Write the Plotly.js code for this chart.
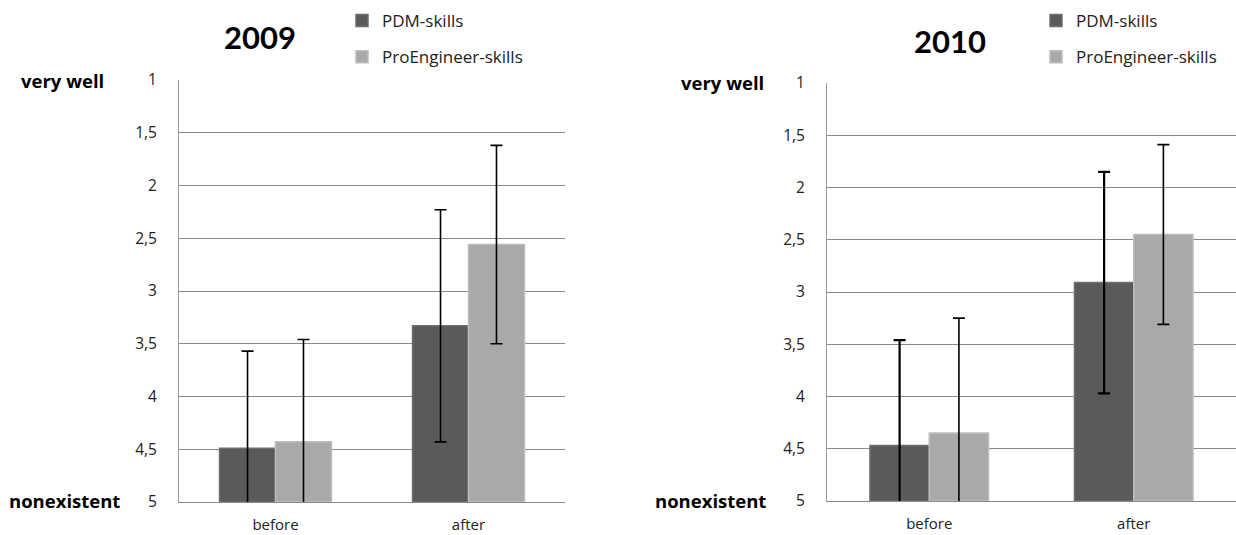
<!DOCTYPE html>
<html>
<head>
<meta charset="utf-8">
<script src="https://cdn.plot.ly/plotly-3.0.1.min.js"></script>
<style>
html,body{margin:0;padding:0;background:#fff;}
#chart{width:1236px;height:535px;}
</style>
</head>
<body>
<div id="chart"></div>
<script>
// ---- data (1 = very well, 5 = nonexistent) ----
const categories = ["before", "after"];
const seriesNames = ["PDM-skills", "ProEngineer-skills"];
const pdm2009 = [4.49, 3.33];
const pdmErr2009 = [0.92, 1.10];
const proe2009 = [4.43, 2.56];
const proeErr2009 = [0.97, 0.94];
const pdm2010 = [4.47, 2.91];
const pdmErr2010 = [1.01, 1.06];
const proe2010 = [4.35, 2.45];
const proeErr2010 = [1.10, 0.86];
const yTickVals = [1, 1.5, 2, 2.5, 3, 3.5, 4, 4.5, 5];
const chartTitles = ["2009", "2010"];
const scaleTop = "very well";
const scaleBottom = "nonexistent";
const BASE = 5;

const FONT = "Lato, 'Open Sans', 'DejaVu Sans', sans-serif";
const LABELFONT = "'Open Sans', Lato, sans-serif";
const W = 1236, H = 535;
const px = v => v / W;
const py = v => 1 - v / H;

const darkFill = "#5a5a5a", darkLine = "#6e6e6e";
const lightFill = "#a9a9a9", lightLine = "#bdbdbd";

function barTrace(name, vals, errs, xa, ya, fill, line, legend, group, thick) {
  return {
    type: "bar",
    name: name,
    x: categories,
    y: vals.map(v => v - BASE),
    base: vals.map(() => BASE),
    xaxis: xa, yaxis: ya,
    legend: legend,
    legendgroup: group,
    marker: {color: fill, line: {color: line, width: 1.5}},
    error_y: {type: "data", array: errs, visible: true, color: "#000", thickness: thick, width: 6},
    hoverinfo: "skip"
  };
}

const data = [
  barTrace(seriesNames[0], pdm2009, pdmErr2009, "x", "y", darkFill, darkLine, "legend", "a", 1.6),
  barTrace(seriesNames[1], proe2009, proeErr2009, "x", "y", lightFill, lightLine, "legend", "b", 1.6),
  barTrace(seriesNames[0], pdm2010, pdmErr2010, "x2", "y2", darkFill, darkLine, "legend2", "c", 2.2),
  barTrace(seriesNames[1], proe2010, proeErr2010, "x2", "y2", lightFill, lightLine, "legend2", "d", 1.6)
];

function yAxis(domain, anchor) {
  return {
    domain: domain, anchor: anchor,
    range: [5, 1], tickvals: yTickVals,
    showgrid: true, gridcolor: "#8a8a8a", gridwidth: 1,
    showline: true, linecolor: "#9a9a9a", linewidth: 1,
    zeroline: false, ticks: "", ticklabelstandoff: 18,
    tickfont: {family: LABELFONT, size: 15.5, color: "#222"},
    fixedrange: true
  };
}
function xAxis(domain, anchor) {
  return {
    domain: domain, anchor: anchor,
    showline: true, linecolor: "#8a8a8a", linewidth: 1,
    showgrid: false, zeroline: false, ticks: "",
    ticklabelstandoff: 9,
    tickfont: {family: LABELFONT, size: 15, color: "#222"},
    fixedrange: true
  };
}

function legendAt(xLeftText, yTop) {
  return {
    x: px(xLeftText - 40), y: py(yTop), xanchor: "left", yanchor: "top",
    font: {family: LABELFONT, size: 17, color: "#222"},
    bgcolor: "rgba(0,0,0,0)", borderwidth: 0,
    traceorder: "grouped", tracegroupgap: 11
  };
}

function ann(text, x, y, size, anchor, fam) {
  return {text: text, x: px(x), y: py(y), xref: "paper", yref: "paper",
          xanchor: anchor, yanchor: "middle", showarrow: false,
          font: {family: fam, size: size, color: "#000", weight: "bold"}};
}

const layout = {
  width: W, height: H,
  margin: {l: 0, r: 0, t: 0, b: 0},
  paper_bgcolor: "#fff", plot_bgcolor: "#fff",
  separators: ", ",
  barmode: "group", bargap: 0.42, bargroupgap: 0,
  showlegend: true,
  xaxis: xAxis([px(179), px(565)], "y"),
  yaxis: yAxis([1 - 502 / H, 1 - 80 / H], "x"),
  xaxis2: xAxis([px(827), 1], "y2"),
  yaxis2: yAxis([1 - 501 / H, 1 - 83 / H], "x2"),
  legend: legendAt(382, 3),
  legend2: legendAt(1076, 3),
  annotations: [
    ann("<b>" + chartTitles[0] + "</b>", 260, 37, 31, "center", FONT),
    ann("<b>" + chartTitles[1] + "</b>", 950, 41, 31, "center", FONT),
    ann("<b>" + scaleTop + "</b>", 106, 80, 18.5, "right", LABELFONT),
    ann("<b>" + scaleBottom + "</b>", 122, 500, 18.5, "right", LABELFONT),
    ann("<b>" + scaleTop + "</b>", 766, 82, 18.5, "right", LABELFONT),
    ann("<b>" + scaleBottom + "</b>", 768, 500, 18.5, "right", LABELFONT)
  ]
};

Plotly.newPlot("chart", data, layout, {displayModeBar: false, staticPlot: true});
</script>
</body>
</html>
